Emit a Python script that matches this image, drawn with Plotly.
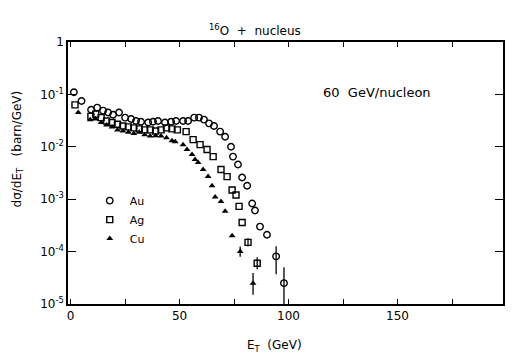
import plotly.graph_objects as go

# ---------------- data ----------------
au_x = [1.5, 5, 9.4, 12.2, 14.9, 17.2, 19.5, 22.2, 25, 27.8, 30, 32.3,
        35.6, 37.8, 40.1, 43.3, 46.1, 48.4, 51.6, 53.9, 56.7, 58.9, 61.2,
        63.5, 65.8, 68.6, 70.9, 73.6, 74.5, 76.8, 78.7, 81, 83.3, 84.6,
        86.9, 90.1, 94.3, 97.9]
au_y = [0.11, 0.075, 0.051, 0.056, 0.049, 0.045, 0.041, 0.045, 0.036, 0.034,
        0.031, 0.030, 0.029, 0.030, 0.031, 0.029, 0.030, 0.031, 0.031, 0.031,
        0.036, 0.036, 0.033, 0.028, 0.025, 0.0195, 0.0156, 0.010, 0.0065,
        0.0046, 0.0026, 0.0018, 8.3e-4, 6.1e-4, 3.0e-4, 2.1e-4, 8.1e-5, 2.5e-5]
au_err_hi_tail = [4.5e-5, 2.5e-5]
au_err_lo_tail = [4.4e-5, 2.45e-5]

ag_x = [2, 9.3, 11.5, 14, 16.5, 19, 21.5, 24, 26.5, 29, 31.5, 34, 36.5, 39,
        41.5, 44, 46.5, 49, 53, 56.2, 59.4, 62.6, 65.4, 69, 71.8, 74.1, 75.9,
        77.3, 78.7, 81.4, 85.6]
ag_y = [0.063, 0.038, 0.042, 0.036, 0.031, 0.029, 0.027, 0.025, 0.024, 0.023,
        0.022, 0.021, 0.021, 0.020, 0.021, 0.023, 0.022, 0.021, 0.0195, 0.0137,
        0.011, 0.0089, 0.0065, 0.0037, 0.0027, 0.0015, 0.0012, 7.3e-4, 3.6e-4,
        1.5e-4, 6.0e-5]
ag_err_hi_tail = [3.0e-5, 1.8e-5]
ag_err_lo_tail = [2.5e-5, 1.4e-5]

cu_x = [3.5, 9, 11.5, 14, 16.5, 19, 21.5, 24, 26.5, 29, 31.5, 34, 36.5, 39,
        41.5, 44, 46.5, 48, 51.6, 53.4, 55.7, 57.1, 58.5, 60.8, 63.1, 64.9,
        66.3, 69, 70.9, 74.1, 77.8, 83.7]
cu_y = [0.045, 0.033, 0.034, 0.029, 0.026, 0.024, 0.021, 0.020, 0.019, 0.018,
        0.019, 0.017, 0.016, 0.0163, 0.016, 0.0149, 0.013, 0.0125, 0.011,
        0.0089, 0.0071, 0.0057, 0.005, 0.0037, 0.0027, 0.0018, 0.0011, 9e-4,
        5.9e-4, 2.0e-4, 1.0e-4, 2.5e-5]
cu_err_hi_tail = [2.5e-5, 1.4e-5]
cu_err_lo_tail = [2.0e-5, 1.0e-5]

x_tickvals = [0, 50, 100, 150, 200]
x_ticktext = ["0", "50", "100", "150", "200"]
x_minor_step = 25
y_tickvals = [1, 0.1, 0.01, 0.001, 0.0001, 0.00001]
y_ticktext = ["1", "10<sup>-1</sup>", "10<sup>-2</sup>", "10<sup>-3</sup>",
              "10<sup>-4</sup>", "10<sup>-5</sup>"]


def full_err(n, tail):
    return [0] * (n - len(tail)) + tail


FONT = "DejaVu Sans"
fig = go.Figure()

series = [
    ("Au", au_x, au_y, au_err_hi_tail, au_err_lo_tail,
     dict(symbol="circle-open", size=6.5, color="black", line=dict(width=1.4))),
    ("Ag", ag_x, ag_y, ag_err_hi_tail, ag_err_lo_tail,
     dict(symbol="square-open", size=6, color="black", line=dict(width=1.4))),
    ("Cu", cu_x, cu_y, cu_err_hi_tail, cu_err_lo_tail,
     dict(symbol="triangle-up", size=6, color="black", line=dict(width=0))),
]
for name, xs, ys, ehi, elo, mk in series:
    fig.add_trace(go.Scatter(
        x=xs, y=ys, mode="markers", name=name, marker=mk,
        error_y=dict(type="data", symmetric=False,
                     array=full_err(len(ys), ehi),
                     arrayminus=full_err(len(ys), elo),
                     color="black", thickness=1.3, width=0),
    ))

axis_common = dict(showline=True, linecolor="black", linewidth=1.5,
                   mirror="ticks", ticks="inside", tickcolor="black",
                   showgrid=False, zeroline=False,
                   tickfont=dict(family=FONT, size=12, color="black"))

fig.update_xaxes(range=[-1.2, 198.4], tickvals=x_tickvals, ticktext=x_ticktext,
                 ticklen=5, tickwidth=1.2,
                 minor=dict(dtick=x_minor_step, ticks="inside", ticklen=5,
                            tickwidth=1.2, tickcolor="black", showgrid=False),
                 **axis_common)
fig.update_yaxes(type="log", range=[-5, 0], tickvals=y_tickvals,
                 ticktext=y_ticktext, ticklen=8, tickwidth=1.2, **axis_common)

fig.update_layout(
    width=518, height=363,
    margin=dict(l=68, r=15, t=42, b=59),
    paper_bgcolor="white", plot_bgcolor="white",
    font=dict(family=FONT, size=12, color="black"),
    showlegend=True,
    legend=dict(x=0.05, y=0.45, xanchor="left", yanchor="top",
                bgcolor="rgba(0,0,0,0)", font=dict(family=FONT, size=11),
                itemwidth=30, tracegroupgap=0),
    annotations=[
        dict(text="<sup>16</sup>O  +  nucleus", xref="paper", yref="paper",
             x=0.43, xanchor="center", y=1.0, yshift=22, showarrow=False,
             font=dict(family=FONT, size=12)),
        dict(text="60  GeV/nucleon", xref="paper", yref="paper",
             x=0.71, xanchor="center", y=0.845, showarrow=False,
             font=dict(family=FONT, size=13)),
        dict(text="E<sub>T</sub>  (GeV)", xref="paper", yref="paper",
             x=0.475, xanchor="center", y=0, yshift=-52, showarrow=False,
             font=dict(family=FONT, size=12)),
        dict(text="dσ/dE<sub>T</sub>   (barn/GeV)", xref="paper", yref="paper",
             x=0, xanchor="center", xshift=-50, y=0.59, textangle=-90,
             showarrow=False, font=dict(family=FONT, size=12)),
    ],
)

fig.write_html("out.html")
